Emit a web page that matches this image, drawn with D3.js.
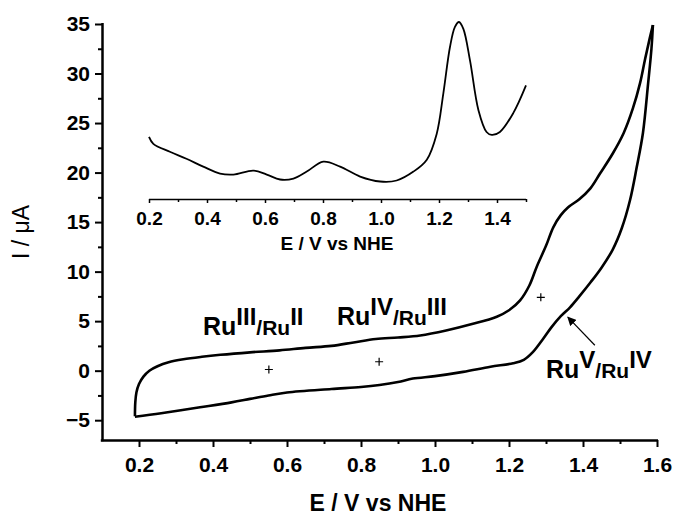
<!DOCTYPE html>
<html>
<head>
<meta charset="utf-8">
<script src="https://cdn.jsdelivr.net/npm/d3@7"></script>
<style>
  body { margin: 0; background: #fff; }
  text { font-family: "Liberation Sans", Arial, sans-serif; }
</style>
</head>
<body>
<div id="chart"></div>
<script>
const width = 676,
  height = 517;

// main CV: anodic sweep (upper branch), then cathodic sweep back (lower branch)
const upE = [0.189, 0.19, 0.193, 0.2, 0.212, 0.228, 0.25, 0.28, 0.32, 0.37, 0.42, 0.5, 0.58, 0.65, 0.72, 0.78, 0.84, 0.9, 0.96, 1.03, 1.1, 1.167, 1.2, 1.23, 1.255, 1.275, 1.3, 1.32, 1.34, 1.36, 1.39, 1.42, 1.446, 1.48, 1.51, 1.535, 1.554, 1.568, 1.58, 1.589];
const upI = [-4.6, -3.2, -2.2, -1.35, -0.6, 0.0, 0.45, 0.85, 1.15, 1.4, 1.6, 1.85, 2.05, 2.3, 2.5, 2.85, 3.2, 3.35, 3.55, 4.05, 4.7, 5.45, 6.1, 7.1, 8.6, 10.5, 12.6, 14.5, 15.7, 16.5, 17.3, 18.4, 19.9, 21.9, 24.0, 26.5, 29.0, 31.5, 33.5, 34.9];
const downE = [1.589, 1.585, 1.576, 1.562, 1.545, 1.527, 1.505, 1.48, 1.45, 1.42, 1.39, 1.365, 1.34, 1.315, 1.29, 1.265, 1.24, 1.211, 1.15, 1.076, 1.0, 0.94, 0.9, 0.85, 0.8, 0.72, 0.6, 0.55, 0.5, 0.45, 0.365, 0.26, 0.189];
const downI = [34.9, 32.5, 29.0, 24.0, 20.5, 17.2, 14.4, 12.2, 10.4, 8.9, 7.5, 6.4, 5.5, 4.4, 3.1, 1.9, 1.1, 0.75, 0.4, -0.12, -0.55, -0.8, -1.15, -1.45, -1.65, -1.85, -2.2, -2.5, -2.85, -3.2, -3.7, -4.3, -4.65];

// inset (DPV)
const insetE = [0.2, 0.215, 0.272, 0.329, 0.387, 0.445, 0.491, 0.56, 0.606, 0.652, 0.698, 0.744, 0.801, 0.859, 0.928, 0.997, 1.054, 1.112, 1.158, 1.192, 1.215, 1.238, 1.255, 1.269, 1.284, 1.307, 1.336, 1.364, 1.382, 1.41, 1.456, 1.5];
const insetI = [23.6, 22.9, 22.1, 21.4, 20.6, 19.9, 19.8, 20.2, 19.8, 19.3, 19.4, 20.1, 21.1, 20.6, 19.6, 19.1, 19.2, 20.1, 21.3, 23.9, 28.0, 32.7, 34.7, 35.2, 34.5, 31.3, 26.3, 24.1, 23.8, 24.1, 26.0, 28.8];

const xTicks = [0.2, 0.4, 0.6, 0.8, 1.0, 1.2, 1.4, 1.6];
const yTicks = [-5, 0, 5, 10, 15, 20, 25, 30, 35];
const insetTicks = [0.2, 0.4, 0.6, 0.8, 1.0, 1.2, 1.4];

// peak markers and redox couple labels
const markE = [0.551, 0.849, 1.286];
const markI = [0.12, 0.9, 7.4];
const couples = [
  ["III", "II"],
  ["IV", "III"],
  ["V", "IV"],
];

const x = d3.scaleLinear().domain([0.1, 1.6]).range([102, 657]);
const y = d3.scaleLinear().domain([-7, 35]).range([440, 24]);
const xi = d3.scaleLinear().domain([0.2, 1.5]).range([149, 526]);

const svg = d3
  .select("#chart")
  .append("svg")
  .attr("width", width)
  .attr("height", height);

// axes
const xAxis = svg
  .append("g")
  .attr("transform", "translate(0,440)")
  .call(d3.axisBottom(x).tickValues(xTicks).tickFormat(d3.format(".1f")).tickSize(7).tickSizeOuter(0));
svg
  .append("g")
  .attr("transform", "translate(0,440)")
  .call(d3.axisBottom(x).tickValues(d3.range(0.3, 1.6, 0.2)).tickFormat("").tickSize(4).tickSizeOuter(0))
  .select(".domain")
  .remove();
const yAxis = svg
  .append("g")
  .attr("transform", "translate(102,0)")
  .call(d3.axisLeft(y).tickValues(yTicks).tickSize(7).tickSizeOuter(0).tickPadding(5));
svg
  .append("g")
  .attr("transform", "translate(102,0)")
  .call(d3.axisLeft(y).tickValues(d3.range(-2.5, 35, 5)).tickFormat("").tickSize(4).tickSizeOuter(0))
  .select(".domain")
  .remove();

svg.selectAll(".domain").attr("stroke-width", 2.5);
svg.selectAll(".tick line").attr("stroke-width", 2);
xAxis.selectAll("text").attr("font-size", 21).attr("font-weight", "bold").attr("dy", "1.05em");
yAxis.selectAll("text").attr("font-size", 21).attr("font-weight", "bold");
// extend domain lines so the corner closes
xAxis.select(".domain").attr("d", "M100.8,0.5H658");
yAxis.select(".domain").attr("d", "M0.5,23H0.5V441.2");

svg
  .append("text")
  .attr("x", 378)
  .attr("y", 511)
  .attr("text-anchor", "middle")
  .attr("font-size", 23)
  .attr("font-weight", "bold")
  .text("E / V vs NHE");
svg
  .append("text")
  .attr("transform", "translate(29,232) rotate(-90)")
  .attr("text-anchor", "middle")
  .attr("font-size", 23)
  .text("I / μA");

// CV loop
const line = d3
  .line()
  .x((d) => x(d[0]))
  .y((d) => y(d[1]))
  .curve(d3.curveCatmullRom.alpha(0.5));
const up = upE.map((e, i) => [e, upI[i]]);
const down = downE.map((e, i) => [e, downI[i]]);
svg.append("path").attr("d", line(up)).attr("fill", "none").attr("stroke", "#000").attr("stroke-width", 2.6);
svg.append("path").attr("d", line(down)).attr("fill", "none").attr("stroke", "#000").attr("stroke-width", 2.6);

// inset
const inset = svg.append("g");
inset
  .append("g")
  .attr("transform", "translate(0,199)")
  .call(d3.axisBottom(xi).tickValues(insetTicks).tickFormat(d3.format(".1f")).tickSize(4).tickSizeOuter(0).tickPadding(3))
  .call((g) => g.selectAll("text").attr("font-size", 19).attr("font-weight", "bold").attr("dy", "1.0em"));
inset
  .append("g")
  .attr("transform", "translate(0,199)")
  .call(d3.axisBottom(xi).tickValues(d3.range(0.3, 1.55, 0.2)).tickFormat("").tickSize(3).tickSizeOuter(0))
  .select(".domain")
  .remove();
inset.selectAll(".domain").attr("stroke-width", 1.6).attr("d", "M149,0.5H526");
inset.selectAll(".tick line").attr("stroke-width", 1.5);
inset
  .append("text")
  .attr("x", 337)
  .attr("y", 250)
  .attr("text-anchor", "middle")
  .attr("font-size", 19)
  .attr("font-weight", "bold")
  .text("E / V vs NHE");
const insetLine = d3
  .line()
  .x((d, i) => xi(d))
  .y((d, i) => y(insetI[i]))
  .curve(d3.curveCatmullRom.alpha(0.5));
inset.append("path").attr("d", insetLine(insetE)).attr("fill", "none").attr("stroke", "#000").attr("stroke-width", 1.8);

// "+" markers
markE.forEach((e, i) => {
  const cx = x(e),
    cy = y(markI[i]);
  svg
    .append("path")
    .attr("d", `M${cx - 4},${cy}H${cx + 4}M${cx},${cy - 4}V${cy + 4}`)
    .attr("stroke", "#000")
    .attr("stroke-width", 1.2);
});

// couple labels
const labelPos = [
  [203, 335],
  [337, 325],
  [546, 378],
];
couples.forEach((c, i) => {
  const t = svg
    .append("text")
    .attr("x", labelPos[i][0])
    .attr("y", labelPos[i][1])
    .attr("font-weight", "bold");
  t.append("tspan").attr("font-size", 25).text("Ru");
  t.append("tspan").attr("font-size", 24).attr("dy", -10).text(c[0]);
  t.append("tspan").attr("font-size", 21).attr("dy", 10).text("/Ru");
  t.append("tspan").attr("font-size", 24).attr("dy", -10).text(c[1]);
});

// arrow pointing at Ru(V)/Ru(IV) wave
svg
  .append("defs")
  .append("marker")
  .attr("id", "head")
  .attr("viewBox", "0 0 10 10")
  .attr("refX", 9)
  .attr("refY", 5)
  .attr("markerWidth", 9)
  .attr("markerHeight", 9)
  .attr("markerUnits", "userSpaceOnUse")
  .attr("orient", "auto")
  .append("path")
  .attr("d", "M0,0L10,5L0,10z")
  .attr("fill", "#000");
svg
  .append("line")
  .attr("x1", x(1.432))
  .attr("y1", y(2.57))
  .attr("x2", x(1.359))
  .attr("y2", y(5.4))
  .attr("stroke", "#000")
  .attr("stroke-width", 1.2)
  .attr("marker-end", "url(#head)");
</script>
</body>
</html>
